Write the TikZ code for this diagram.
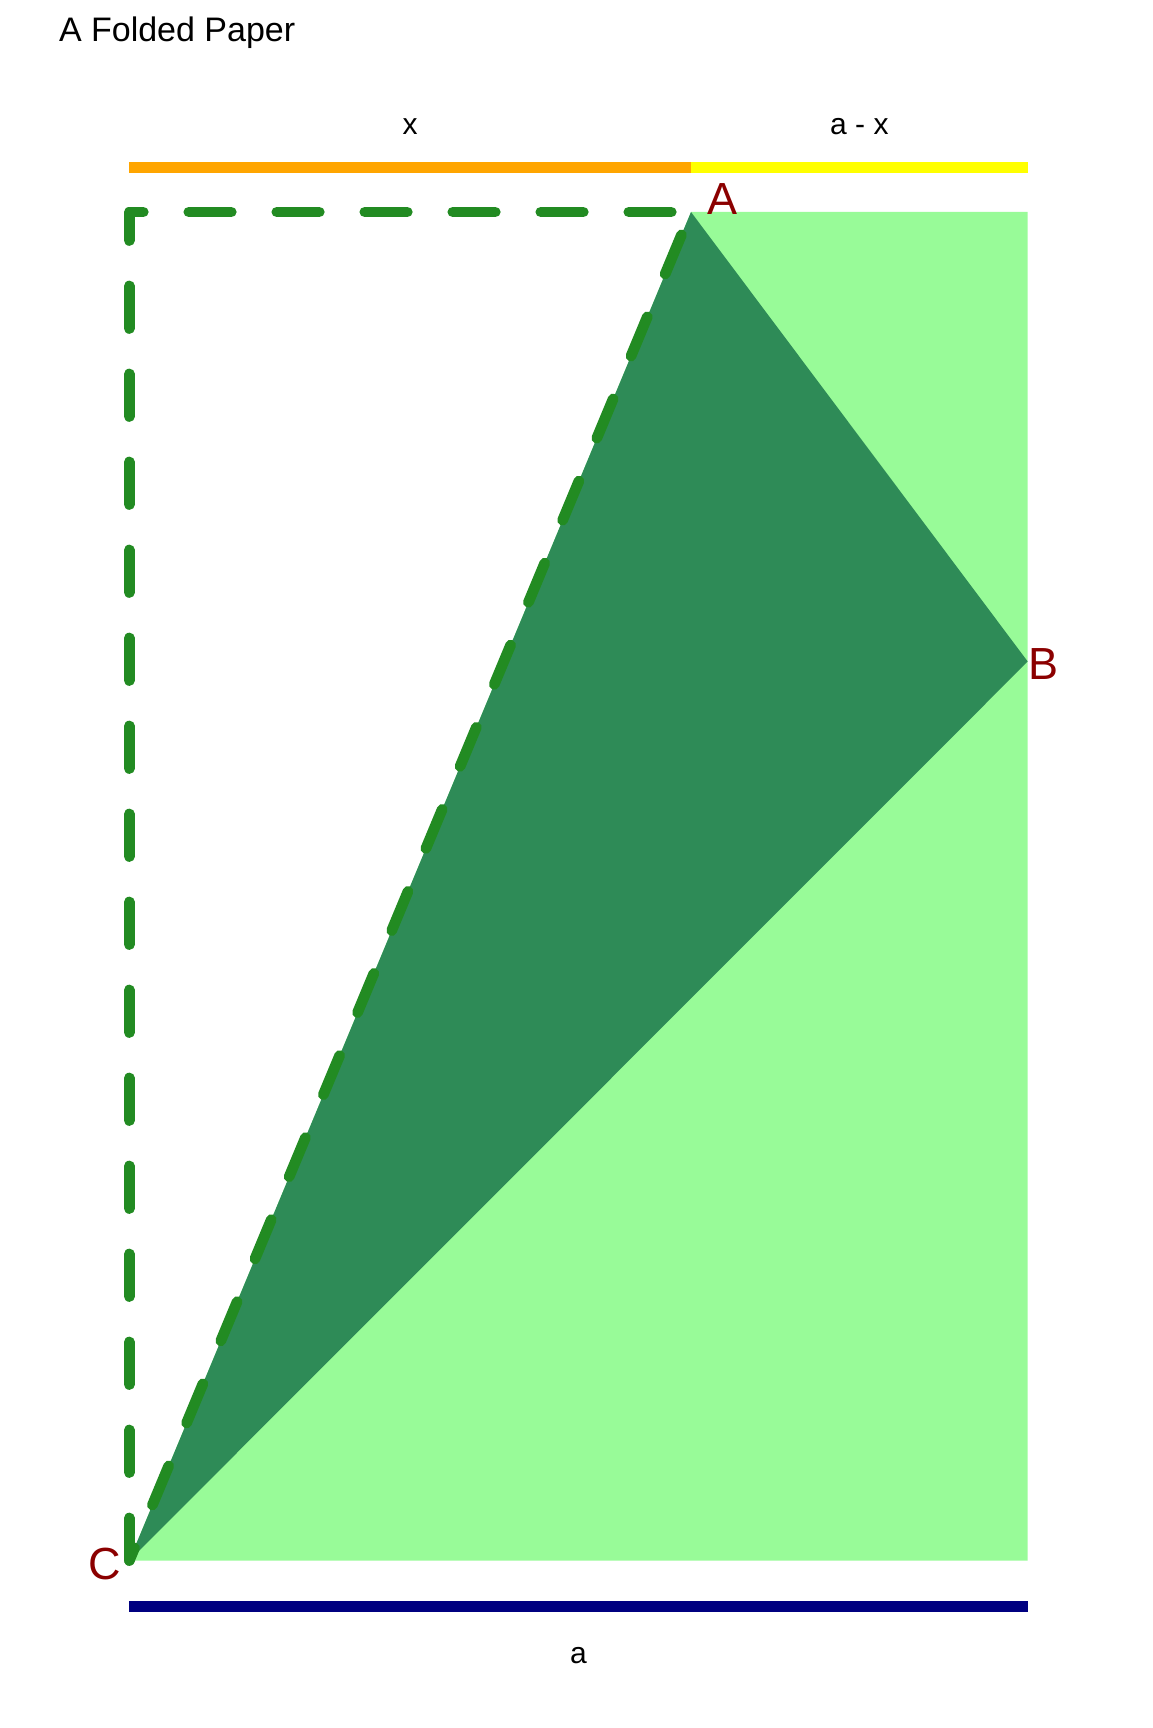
\documentclass[tikz,border=0pt]{standalone}
\usepackage{fontspec}
\setmainfont{Liberation Sans}
\usepackage{tikz}
\usetikzlibrary{positioning}
\definecolor{ppaper}{HTML}{98FB98}
\definecolor{pfold}{HTML}{2E8B57}
\definecolor{pedge}{HTML}{228B22}
\definecolor{pleft}{HTML}{FFA500}
\definecolor{pright}{HTML}{FFFF00}
\definecolor{pbase}{HTML}{000080}
\definecolor{pmark}{HTML}{8B0000}
\newcommand{\bigtxt}{\fontsize{45}{54}\selectfont}
\newcommand{\smalltxt}{\fontsize{30}{36}\selectfont}

\begin{document}
\begin{tikzpicture}[x=1pt,y=-1pt,
    foldline/.style={pedge,line width=10.7pt,line cap=round,line join=round,
                     dash pattern=on 42.5pt off 45.5pt},
    creaseline/.style={foldline,dash pattern=on 42.5pt off 46.4pt,dash phase=28.8pt},
    barline/.style={line width=10.7pt,line cap=butt},
    corner/.style={pmark,inner sep=0pt,anchor=base west,font=\bigtxt},
    sidelbl/.style={black,inner sep=0pt,anchor=base,font=\smalltxt}]
  \useasboundingbox (0,0) rectangle (1152,1728);
  % paper corners
  \coordinate (TL) at (129.3,212);
  \coordinate (TR) at (1027.7,212);
  \coordinate (BR) at (1027.7,1560.5);
  \coordinate (C) at (129.3,1560.5);
  \coordinate (A) at (691,212);
  \coordinate (B) at (1027.7,661.5);
  % paper and folded flap
  \fill[ppaper] (A) -- (TR) -- (BR) -- (C) -- cycle;
  \fill[pfold] (A) -- (B) -- (C) -- cycle;
  \draw[foldline] (C) -- (TL) -- (A);
  \draw[creaseline] (C) -- (A);
  % measure bars
  \coordinate (topL) at (129.3,167.4);
  \coordinate (topM) at (691,167.4);
  \coordinate (topR) at (1027.7,167.4);
  \coordinate (botL) at (129.3,1606.3);
  \coordinate (botR) at (1027.7,1606.3);
  \draw[barline,pleft] (topL) -- (topM);
  \draw[barline,pright] (topM) -- (topR);
  \draw[barline,pbase] (botL) -- (botR);
  % labels
  \node[anchor=base west,inner sep=0pt,font=\fontsize{34}{41}\selectfont] (title) at (58.8,41.7) {A Folded Paper};
  \node[sidelbl] (lblx) at (410,135) {x};
  \node[sidelbl] (lblax) at (859.4,135) {a - x};
  \node[sidelbl] (lbla) at (578.5,1663) {a};
  \node[corner] (lblA) at (707,215) {A};
  \node[corner] (lblB) at (1028.4,679.3) {B};
  \node[corner] (lblC) at (88.5,1579) {C};
\end{tikzpicture}
\end{document}
